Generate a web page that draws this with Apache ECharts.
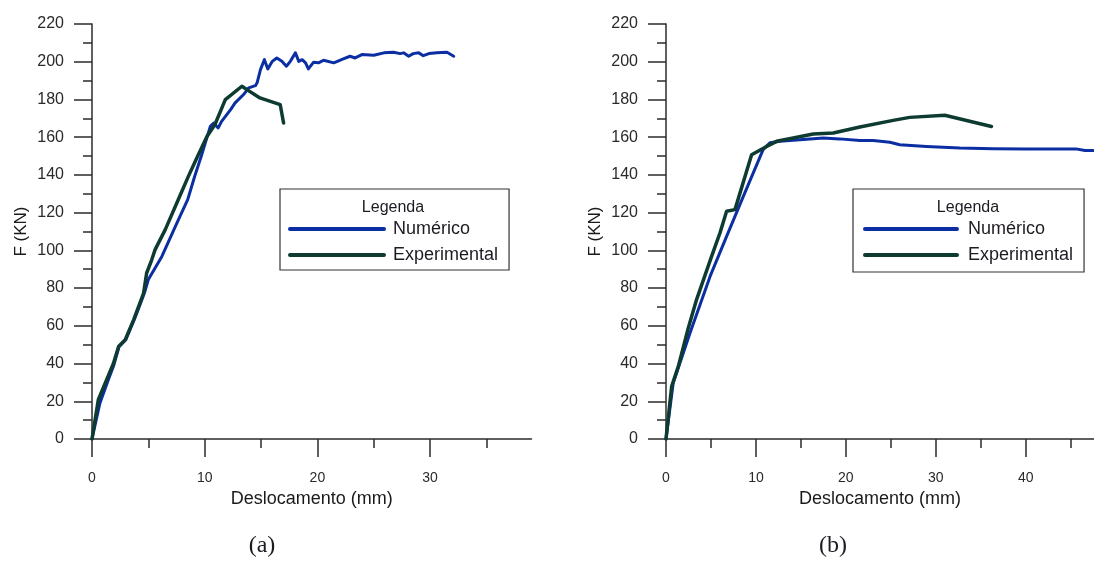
<!DOCTYPE html>
<html><head><meta charset="utf-8">
<script src="https://cdn.jsdelivr.net/npm/echarts@6/dist/echarts.min.js"></script>
<style>html,body{margin:0;padding:0;background:#fff}#c{width:1094px;height:569px}</style>
</head><body><div id="c"></div>
<script>
// ---- Data ----
const seriesNames = ['Numérico', 'Experimental'];
const yTicks = [0, 20, 40, 60, 80, 100, 120, 140, 160, 180, 200, 220];
const xMajorA = [0, 10, 20, 30];
const xMinorA = [5, 15, 25, 35];
const xMajorB = [0, 10, 20, 30, 40];
const xMinorB = [5, 15, 25, 35, 45];

// Panel (a) numeric
const aNumX = [0, 0.7, 1.45, 1.95, 2.4, 3.0, 3.75, 4.2, 4.65, 5.0, 6.2, 7.4, 8.5, 9.1, 9.7, 10.5, 10.8, 11.2, 11.5, 12.3, 12.7, 13.45, 13.9, 14.5, 14.65, 14.95, 15.3, 15.6, 16.0, 16.4, 16.85, 17.25, 17.6, 18.05, 18.35, 18.65, 18.95, 19.2, 19.65, 20.1, 20.55, 21.45, 22.3, 22.9, 23.35, 23.95, 25.0, 25.9, 26.75, 27.35, 27.65, 28.1, 28.5, 29.0, 29.4, 29.9, 30.6, 31.5, 32.1];
const aNumF = [0, 19, 31.4, 39.4, 49, 52.6, 63.3, 70.3, 77.4, 84.5, 96.8, 112.7, 127, 139, 150, 165.7, 167.5, 164.9, 168.4, 174.6, 178.2, 182.6, 186.1, 187.3, 188.8, 195.8, 201.1, 196.2, 200.2, 202, 200.2, 197.6, 200.2, 204.7, 200.2, 201.1, 199.4, 196.2, 199.7, 199.4, 200.8, 199.4, 201.5, 202.9, 202, 203.8, 203.4, 204.7, 205, 204.3, 204.7, 202.9, 204.3, 204.7, 203.2, 204.3, 204.7, 205, 202.9];
// Panel (a) experimental
const aExpX = [0, 0.56, 1.3, 1.9, 2.36, 2.95, 3.7, 4.14, 4.58, 4.85, 5.3, 5.6, 6.5, 7.66, 8.55, 9.3, 10.2, 10.9, 11.83, 13.3, 13.75, 14.9, 16.7, 17.0];
const aExpF = [0, 20.8, 31.4, 40, 49, 52.6, 63.3, 70.3, 77.4, 88, 95, 100.4, 111, 127, 139.2, 149, 160.4, 166.6, 179.9, 187, 185.2, 180.8, 177.3, 167.5];
// Panel (b) numeric
const bNumX = [0, 0.8, 2.67, 4.9, 6.74, 8.6, 10.8, 11.56, 12.67, 14.9, 17.5, 19.3, 21.56, 23.04, 24.9, 26, 28.96, 32.67, 36.37, 40.1, 45.6, 46.6, 47.5];
const bNumF = [0, 29.7, 56.2, 86.2, 107.4, 128.6, 153.4, 157, 157.8, 158.7, 159.6, 159.1, 158.2, 158.3, 157.3, 156, 155.1, 154.3, 153.9, 153.8, 153.8, 152.9, 152.9];
// Panel (b) experimental
const bExpX = [0, 0.63, 1.37, 2.48, 3.4, 5.07, 6.0, 6.74, 7.67, 9.52, 11.19, 12.3, 14.15, 16.37, 18.6, 21.56, 25.26, 27.1, 31, 36.2];
const bExpF = [0, 27.9, 38.5, 58.9, 73.9, 96.8, 109.2, 120.7, 121.6, 150.7, 155.1, 157.8, 159.6, 161.7, 162.2, 165.4, 168.9, 170.5, 171.6, 165.7];

// ---- Build ----
const zip = (xs, ys) => xs.map((x, i) => [x, ys[i]]);
const FONT = 'Liberation Sans, Arial, sans-serif';
const SERIF = 'Liberation Serif, Times New Roman, serif';
const AX = '#2b2b2b';
const BLUE = '#0b2fa3';
const GREEN = '#0e3b31';

function xAxes(grid, max, major, minor) {
  return [
    {
      gridIndex: grid, type: 'value', min: 0, max: max, position: 'bottom',
      axisLine: { show: true, onZero: false, lineStyle: { color: AX, width: 1.5 } },
      axisTick: { show: true, customValues: major, length: 18, lineStyle: { color: AX, width: 1.5 } },
      axisLabel: { customValues: major, margin: 32, fontSize: 14, color: '#2a2a2a', fontFamily: FONT },
      splitLine: { show: false },
      name: 'Deslocamento (mm)', nameLocation: 'middle', nameGap: 47,
      nameTextStyle: { fontSize: 18, color: '#1a1a1a', fontFamily: FONT }
    },
    {
      gridIndex: grid, type: 'value', min: 0, max: max, position: 'bottom', offset: 0,
      axisLine: { show: false, onZero: false },
      axisTick: { show: true, customValues: minor, length: 9, lineStyle: { color: AX, width: 1.5 } },
      axisLabel: { show: false },
      splitLine: { show: false }
    }
  ];
}
function yAxis(grid) {
  return {
    gridIndex: grid, type: 'value', min: yTicks[0], max: yTicks[yTicks.length - 1], interval: 20,
    axisLine: { show: true, lineStyle: { color: AX, width: 1.5 } },
    axisTick: { show: true, length: 18, lineStyle: { color: AX, width: 1.5 } },
    minorTick: { show: true, splitNumber: 2, length: 9, lineStyle: { color: AX, width: 1.5 } },
    axisLabel: { margin: 28, fontSize: 16, color: '#2a2a2a', fontFamily: FONT },
    splitLine: { show: false }, minorSplitLine: { show: false },
    name: 'F (KN)', nameLocation: 'middle', nameGap: 62,
    nameTextStyle: { fontSize: 17, color: '#1a1a1a', fontFamily: FONT }
  };
}
function line(name, xi, yi, data, color, w) {
  return {
    name: name, type: 'line', xAxisIndex: xi, yAxisIndex: yi, data: data,
    symbol: 'none', showSymbol: false, clip: true,
    lineStyle: { color: color, width: w, cap: 'round', join: 'round' },
    itemStyle: { color: color }, emphasis: { disabled: true }
  };
}
function legend(left, top, pad, itemW, textPad) {
  return {
    orient: 'vertical', left: left, top: top, padding: pad,
    data: seriesNames, itemWidth: itemW, itemHeight: 14, itemGap: 8,
    borderColor: '#333', borderWidth: 1.2, backgroundColor: '#fff',
    itemStyle: { opacity: 0 },
    lineStyle: { width: 4, cap: 'round' },
    selectedMode: false,
    textStyle: { fontSize: 18, lineHeight: 18, color: '#1e1a22', fontFamily: FONT, padding: [0, 0, 0, textPad] }
  };
}
function label(text, x, y, size, family) {
  return { type: 'text', x: x, y: y, z: 100,
    style: { text: text, fontSize: size, fontFamily: family, fill: '#1e1a22', align: 'center', verticalAlign: 'middle' } };
}

const chart = echarts.init(document.getElementById('c'), null, { renderer: 'canvas' });
chart.setOption({
  animation: false,
  backgroundColor: '#fff',
  grid: [
    { left: 92, top: 24, width: 439.5, height: 415 },
    { left: 666, top: 24, width: 428.4, height: 415 }
  ],
  xAxis: [].concat(xAxes(0, 39, xMajorA, xMinorA), xAxes(1, 47.6, xMajorB, xMinorB)),
  yAxis: [yAxis(0), yAxis(1)],
  legend: [
    legend(280, 189, [31, 11, 6, 8], 94, 4),
    legend(853, 189, [31, 11, 8, 10], 92, 6)
  ],
  series: [
    line(seriesNames[0], 0, 0, zip(aNumX, aNumF), BLUE, 3),
    line(seriesNames[1], 0, 0, zip(aExpX, aExpF), GREEN, 3.5),
    line(seriesNames[0], 2, 1, zip(bNumX, bNumF), BLUE, 3),
    line(seriesNames[1], 2, 1, zip(bExpX, bExpF), GREEN, 3.5)
  ],
  graphic: [
    label('Legenda', 393, 208, 16, FONT),
    label('Legenda', 968, 208, 16, FONT),
    label('(a)', 262, 546, 24, SERIF),
    label('(b)', 833, 546, 24, SERIF)
  ]
});
</script></body></html>
